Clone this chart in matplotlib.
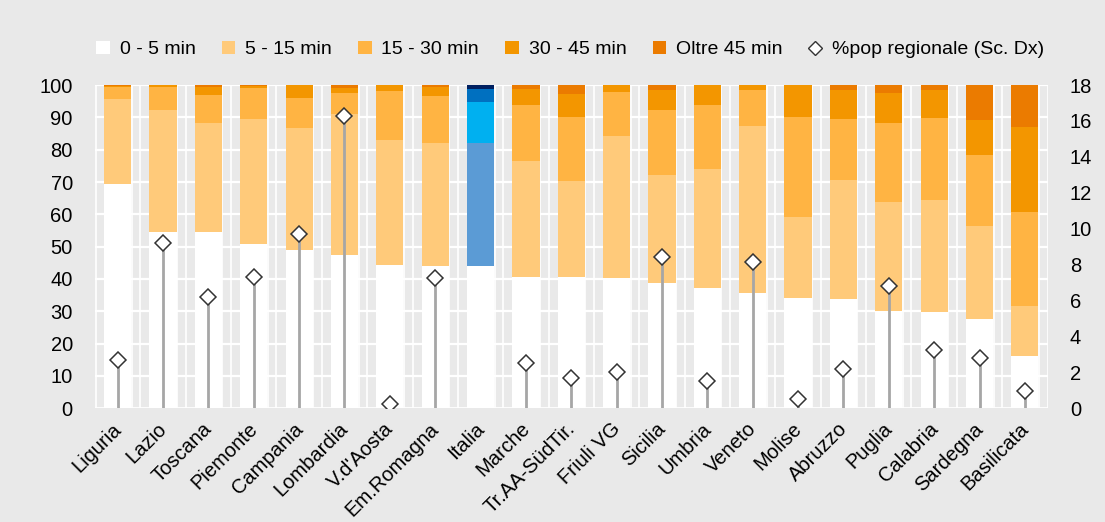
import matplotlib
matplotlib.use("Agg")
from matplotlib import pyplot as plt
from matplotlib.patches import Patch
from matplotlib.lines import Line2D
import numpy as np

plt.rcParams['font.family'] = ['Liberation Sans', 'DejaVu Sans']

regions = ["Liguria", "Lazio", "Toscana", "Piemonte", "Campania", "Lombardia",
           "V.d'Aosta", "Em.Romagna", "Italia", "Marche", "Tr.AA-SüdTir.",
           "Friuli VG", "Sicilia", "Umbria", "Veneto", "Molise", "Abruzzo",
           "Puglia", "Calabria", "Sardegna", "Basilicata"]

# share of population by travel time (%)
min_0_5 = [69.3, 54.6, 54.4, 50.8, 49.1, 47.5, 44.4, 44.1, 44.1, 40.6, 40.6,
           40.3, 38.6, 37.2, 35.8, 34.1, 33.7, 30.1, 29.7, 27.6, 16.2]
min_5_15 = [26.4, 37.7, 34.0, 38.7, 37.7, 43.5, 38.6, 38.1, 37.9, 35.9, 29.7,
            43.9, 33.5, 36.9, 51.5, 25.0, 36.9, 33.6, 34.7, 28.7, 15.4]
min_15_30 = [3.7, 7.2, 8.5, 9.6, 9.1, 6.7, 15.1, 14.5, 12.7, 17.4, 19.8,
             13.6, 20.2, 19.7, 11.2, 31.0, 18.9, 24.6, 25.4, 22.0, 29.1]
min_30_45 = [0.4, 0.4, 2.5, 0.7, 4.0, 1.4, 1.9, 2.6, 4.1, 4.8, 7.2,
             2.2, 6.2, 6.2, 1.5, 9.9, 8.9, 9.2, 8.6, 10.9, 26.2]
min_45_plus = [0.2, 0.1, 0.6, 0.2, 0.1, 0.9, 0.0, 0.7, 1.2, 1.3, 2.7,
               0.0, 1.5, 0.0, 0.0, 0.0, 1.6, 2.5, 1.6, 10.8, 13.1]

# regional population share, right scale (no value for Italia)
pop_share = [2.67, 9.23, 6.17, 7.32, 9.70, 16.27, 0.22, 7.28, None, 2.54, 1.71,
             2.03, 8.41, 1.50, 8.17, 0.54, 2.19, 6.82, 3.27, 2.77, 0.95]

labels = ["0 - 5 min", "5 - 15 min", "15 - 30 min", "30 - 45 min", "Oltre 45 min"]
orange = ["#ffffff", "#ffca7a", "#ffb443", "#f39600", "#eb7b00"]
blue = ["#ffffff", "#5b9bd5", "#00b0f0", "#0070c0", "#002060"]
bg = "#e9e9e9"

fig = plt.figure(figsize=(11.05, 5.22), dpi=100, facecolor=bg)
ax = fig.add_axes([0.086, 0.218, 0.862, 0.619], facecolor=bg)
ax.set_axisbelow(True)

x = np.arange(len(regions))
series = [min_0_5, min_5_15, min_15_30, min_30_45, min_45_plus]
bottom = np.zeros(len(regions))
for k, vals in enumerate(series):
    vals = np.array(vals)
    cols = [blue[k] if r == "Italia" else orange[k] for r in regions]
    ax.bar(x, vals, width=0.6, bottom=bottom, color=cols, linewidth=0, zorder=2)
    bottom += vals

ax.set_xlim(-0.5, len(regions) - 0.5)
ax.set_ylim(0, 100)
ax.set_yticks(range(0, 101, 10))
for y in range(10, 101, 10):
    ax.axhline(y, color="white", lw=1.6, zorder=1)
for i in x:
    ax.axvline(i + 0.5, color="white", lw=1.2, zorder=1)
    ax.axvline(i + 0.31, color="white", lw=1.2, zorder=1)
ax.axvline(-0.47, color="white", lw=1.2, zorder=1)
ax.axhline(0, color="white", lw=2, zorder=1)

# tick marks are hidden; nudge the label anchors a bit left of the bar centres
ax.set_xticks(x - 0.13)
ax.set_xticklabels(regions, rotation=45, ha="right", va="top", rotation_mode="anchor")
ax.tick_params(axis="both", length=0, labelsize=14.5)
ax.tick_params(axis="y", pad=16)
ax.tick_params(axis="x", pad=8)
for s in ax.spines.values():
    s.set_visible(False)

ax2 = ax.twinx()
ax2.set_ylim(0, 18)
ax2.set_yticks(range(0, 19, 2))
ax2.tick_params(axis="y", length=0, labelsize=14.5, pad=16)
for s in ax2.spines.values():
    s.set_visible(False)
px = [i for i, v in zip(x, pop_share) if v is not None]
py = [v for v in pop_share if v is not None]
ax2.vlines(px, 0, py, color="#a6a6a6", lw=2, zorder=3)
ax2.plot(px, py, ls="none", marker="D", ms=8, mfc="white", mec="#333333", mew=1.1, zorder=4)

handles = [Patch(facecolor=c, edgecolor="none") for c in orange]
handles.append(Line2D([], [], ls="none", marker="D", ms=7, mfc="white", mec="#333333", mew=1.0))
fig.legend(handles, labels + ["%pop regionale (Sc. Dx)"], loc="center", ncol=6,
           bbox_to_anchor=(0.516, 0.905), frameon=False, fontsize=14,
           handlelength=0.7, handleheight=0.7, handletextpad=0.5, columnspacing=1.35)

fig.savefig("out.png", dpi=100, facecolor=bg)
